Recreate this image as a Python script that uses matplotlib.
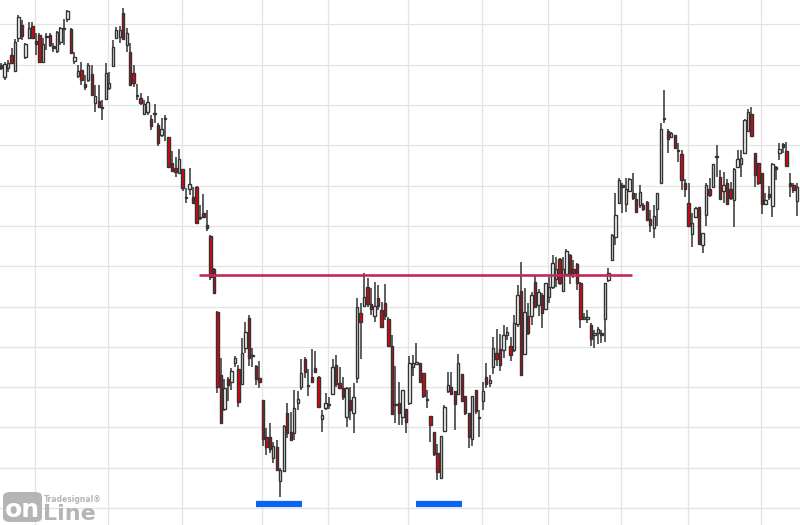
import numpy as np
import matplotlib
matplotlib.use("Agg")
from matplotlib import pyplot as plt
from matplotlib.patches import FancyBboxPatch

opens = [460, 448, 457, 470, 454, 487, 500, 468, 487, 499, 484, 490, 463, 488, 490, 479, 474, 483, 496, 506,
         496, 464, 449, 455, 441, 445, 451, 422, 424, 417, 426, 437, 459, 487, 488, 512, 480, 473, 452, 429,
         427, 411, 413, 406, 411, 400, 390, 406, 388, 362, 357, 352, 356, 327, 336, 328, 338, 307, 312, 300,
         289, 256, 213, 150, 116, 146, 143, 162, 156, 141, 177, 207, 169, 159, 147, 125, 88, 88, 67, 78,
         44, 54, 112, 93, 92, 122, 138, 166, 139, 148, 157, 148, 106, 117, 120, 131, 160, 142, 137, 108,
         125, 112, 147, 212, 219, 238, 221, 209, 227, 215, 222, 206, 179, 120, 122, 108, 116, 122, 158, 161,
         162, 152, 125, 109, 93, 72, 47, 94, 134, 138, 134, 131, 151, 129, 112, 86, 135, 107, 124, 148,
         142, 158, 172, 176, 175, 190, 179, 175, 201, 234, 171, 209, 209, 243, 220, 230, 216, 228, 238, 246,
         266, 234, 251, 270, 256, 261, 242, 206, 206, 200, 190, 192, 192, 206, 245, 265, 288, 322, 340, 321,
         334, 332, 326, 320, 320, 323, 306, 297, 316, 342, 406, 394, 388, 390, 374, 371, 342, 322, 291, 308,
         318, 280, 310, 336, 338, 368, 348, 334, 342, 336, 325, 358, 361, 372, 394, 411, 372, 362, 352, 321,
         331, 319, 358, 372, 381, 374, 342, 340, 324]
highs = [462, 463, 465, 477, 486, 510, 505, 482, 503, 503, 492, 492, 487, 492, 492, 482, 494, 498, 506, 515,
         497, 473, 460, 463, 450, 462, 460, 440, 440, 425, 462, 453, 485, 498, 499, 517, 497, 482, 460, 441,
         432, 425, 429, 410, 421, 402, 407, 410, 388, 374, 368, 376, 356, 337, 357, 338, 339, 320, 331, 315,
         290, 257, 214, 167, 146, 148, 157, 169, 160, 187, 203, 210, 177, 160, 164, 125, 97, 102, 83, 85,
         57, 100, 122, 113, 135, 134, 166, 168, 156, 176, 174, 149, 115, 132, 128, 166, 170, 158, 148, 138,
         138, 142, 227, 222, 252, 247, 237, 243, 240, 223, 241, 208, 190, 159, 143, 135, 116, 169, 170, 182,
         162, 152, 135, 109, 93, 81, 89, 120, 153, 153, 134, 171, 151, 129, 112, 129, 135, 115, 143, 162,
         150, 188, 196, 191, 200, 198, 188, 210, 240, 263, 237, 222, 233, 250, 236, 232, 242, 248, 270, 268,
         267, 268, 276, 271, 265, 262, 243, 212, 215, 202, 195, 198, 195, 242, 257, 291, 332, 347, 342, 347,
         347, 352, 332, 340, 322, 324, 315, 320, 332, 402, 435, 396, 393, 390, 382, 375, 346, 342, 312, 318,
         318, 292, 342, 347, 361, 380, 355, 353, 346, 343, 357, 375, 375, 406, 416, 418, 372, 362, 352, 332,
         339, 362, 359, 382, 382, 383, 352, 342, 342]
lows = [455, 445, 453, 462, 453, 483, 485, 466, 486, 486, 470, 463, 463, 475, 478, 473, 472, 480, 480, 503,
        471, 461, 447, 440, 435, 443, 429, 413, 417, 405, 425, 435, 459, 486, 482, 486, 473, 439, 438, 425,
        420, 410, 410, 395, 402, 379, 388, 384, 357, 353, 348, 351, 334, 322, 330, 322, 301, 305, 307, 294,
        245, 232, 132, 102, 114, 124, 135, 158, 118, 141, 172, 159, 158, 140, 137, 79, 70, 72, 62, 55,
        28, 53, 87, 84, 85, 115, 135, 147, 129, 142, 152, 118, 93, 115, 116, 130, 138, 136, 125, 98,
        105, 92, 142, 166, 218, 218, 210, 203, 215, 197, 205, 178, 110, 102, 100, 100, 92, 120, 149, 160,
        142, 127, 117, 83, 69, 45, 46, 93, 132, 130, 95, 130, 123, 110, 77, 79, 111, 88, 115, 137,
        138, 151, 159, 154, 167, 185, 164, 173, 198, 150, 170, 190, 200, 217, 209, 197, 215, 222, 236, 238,
        240, 233, 250, 241, 247, 235, 197, 205, 202, 179, 177, 181, 182, 183, 243, 265, 280, 321, 312, 313,
        333, 325, 313, 317, 314, 304, 293, 287, 299, 342, 402, 372, 387, 377, 363, 335, 328, 298, 278, 308,
        280, 272, 299, 328, 338, 348, 325, 322, 321, 325, 298, 358, 348, 372, 393, 388, 338, 340, 311, 320,
        325, 308, 345, 365, 372, 358, 328, 332, 309]
closes = [457, 461, 462, 462, 483, 508, 489, 481, 497, 487, 481, 463, 481, 489, 480, 477, 493, 497, 496.5, 514,
          472, 468, 454, 445, 438, 460, 430, 429, 418, 417.5, 452, 442, 478, 495, 495, 486, 492, 440, 442, 429.5,
          422, 421, 423, 399, 411.5, 382, 396, 406.5, 358, 354, 353, 366, 337, 327.5, 341, 322, 302, 307.5, 308, 297,
          248, 232, 138, 102, 137, 140, 154, 167, 123, 172, 193, 167, 169.5, 146, 143, 86, 78, 76, 79, 55,
          55, 99, 92, 85, 117, 126, 152, 153, 139.5, 143, 153, 118, 110, 122, 120.5, 158, 141, 137, 128, 137,
          115, 128, 218, 203, 228, 221, 216, 219, 219, 198, 209, 179, 111, 120.5, 112, 135, 103, 162, 162, 163,
          143, 129, 125.5, 100, 71, 53, 89, 118, 140, 131, 121, 162, 124, 112, 88, 129, 114, 107.5, 134, 141,
          145, 177, 166, 160, 190, 193, 170, 202, 230, 150, 213, 192, 230, 218, 233, 212, 242, 238, 262, 256,
          242, 256, 274, 251, 252, 242, 206, 208, 208, 186, 192, 196, 190, 242, 252, 290, 310, 345, 338, 336,
          346, 327, 313, 333, 316, 305, 300, 309, 332, 396, 407, 386, 392, 377, 374.5, 345, 336, 299, 302, 317,
          281, 292, 340, 330, 361, 368.5, 326, 340, 321, 327, 356, 366, 367, 405, 413, 389, 350, 342, 321, 325,
          328, 361, 356, 376, 378, 359, 339, 335, 338]

# month boundaries (candle index) and horizontal grid levels
month_starts = [10, 31, 52, 75, 94, 117, 138, 157, 178, 197, 218]
grid_levels = [17, 57, 98, 138, 178, 218, 259, 299, 339, 380, 420, 460, 501]

# drawn annotations: neckline and the two marked lows
neckline = 250
neckline_span = (56.7, 180.8)
low_marks = [(73.1, 86.2), (118.9, 132.0)]
low_mark_level = 21

opens = np.array(opens, dtype=float)
highs = np.array(highs, dtype=float)
lows = np.array(lows, dtype=float)
closes = np.array(closes, dtype=float)
idx = np.arange(len(opens))

fig = plt.figure(figsize=(8, 5.25), dpi=100)
ax = fig.add_axes([0, 0, 1, 1])
ax.set_xlim(-0.3, len(opens) - 0.1)
ax.set_ylim(0, 525)

for lvl in grid_levels:
    ax.axhline(lvl, color='#e4e4e4', lw=0.9, zorder=0)
for m in month_starts:
    ax.axvline(m - 0.3, color='#e4e4e4', lw=0.9, zorder=0)

up = closes >= opens
ax.vlines(idx, lows, highs, color='#333333', lw=1.1, zorder=2)
bottoms = np.minimum(opens, closes)
heights = np.maximum(np.abs(closes - opens), 0.7)
ax.bar(idx, heights, bottom=bottoms, width=0.68,
       color=np.where(up, 'white', '#e8000b'),
       edgecolor='#333333', linewidth=1.0, zorder=3)

ax.hlines(neckline, *neckline_span, color='#bf2a5c', lw=1.9, zorder=4)
for a, b in low_marks:
    ax.hlines(low_mark_level, a, b, color='#0a64f0', lw=4.5, zorder=4)

for s in ax.spines.values():
    s.set_visible(False)
ax.set_xticks([])
ax.set_yticks([])

# logo, bottom left
logo = FancyBboxPatch((3 / 800, 3 / 525), 39 / 800, 30 / 525,
                      boxstyle="round,pad=0,rounding_size=0.009",
                      transform=fig.transFigure, fc='#b5b5b5', ec='none', zorder=5)
fig.patches.append(logo)
fig.text(22 / 800, 8 / 525, 'on', color='white', fontsize=18, fontweight='bold',
         ha='center', va='baseline', zorder=6)
fig.text(43 / 800, 5 / 525, 'Line', color='#b5b5b5', fontsize=16, fontweight='bold',
         ha='left', va='baseline', zorder=6)
fig.text(44 / 800, 23 / 525, 'Tradesignal\u00ae', color='#b5b5b5', fontsize=5.5,
         fontweight='bold', ha='left', va='baseline', zorder=6)

fig.savefig('out.png', dpi=100)
